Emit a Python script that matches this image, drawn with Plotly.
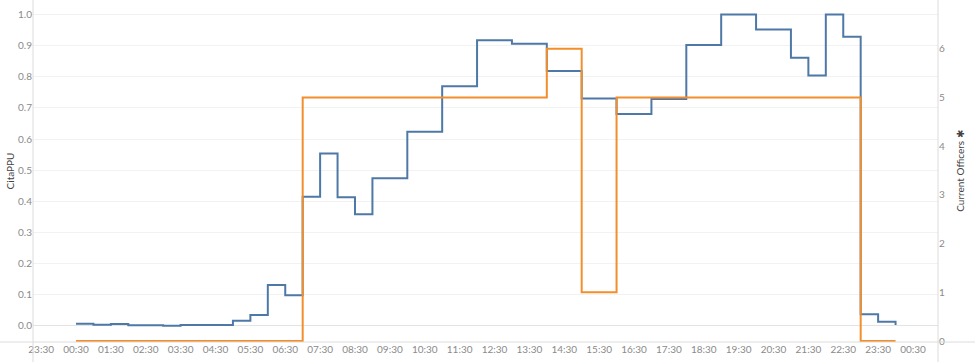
import pandas as pd
import plotly.graph_objects as go

# ---- data -------------------------------------------------------------
start_time = "2020-01-01 00:30"
n_points = 48  # half-hour steps 00:30 .. 00:00 (next day)

citappu = [
    0.007, 0.004, 0.006, 0.002, 0.002, 0.001, 0.003, 0.003, 0.003, 0.017, 0.035, 0.132, 0.099,
    0.415, 0.554, 0.413, 0.359, 0.474, 0.474, 0.624, 0.624, 0.770, 0.770, 0.917, 0.917,
    0.906, 0.906, 0.819, 0.819, 0.730, 0.730, 0.681, 0.681, 0.729, 0.729, 0.902, 0.902,
    1.000, 1.000, 0.952, 0.952, 0.861, 0.804, 1.000, 0.929,
    0.038, 0.014, 0.003,
]
current_officers = (
    [0] * 13 + [5] * 14 + [6, 6] + [1, 1] + [5] * 14 + [0, 0, 0]
)

tick_labels = ["23:30", "00:30", "01:30", "02:30", "03:30", "04:30", "05:30", "06:30",
               "07:30", "08:30", "09:30", "10:30", "11:30", "12:30", "13:30", "14:30",
               "15:30", "16:30", "17:30", "18:30", "19:30", "20:30", "21:30", "22:30",
               "23:30", "00:30"]
tick_start = "2019-12-31 23:30"

left_ticks = [0.0, 0.1, 0.2, 0.3, 0.4, 0.5, 0.6, 0.7, 0.8, 0.9, 1.0]
right_ticks = [0, 1, 2, 3, 4, 5, 6, 7]

# ---- figure -----------------------------------------------------------
times = pd.date_range(start_time, periods=n_points, freq="30min")
tick_times = pd.date_range(tick_start, periods=len(tick_labels), freq="60min")

BLUE = "#4e79a7"
ORANGE = "#f28e2b"
FONT = "Lato, 'Open Sans', sans-serif"

fig = go.Figure()
fig.add_trace(go.Scatter(
    x=times, y=citappu, mode="lines", line=dict(color=BLUE, width=2, shape="hv"),
    name="CitaPPU", yaxis="y",
))
fig.add_trace(go.Scatter(
    x=times, y=current_officers, mode="lines", line=dict(color=ORANGE, width=2, shape="hv"),
    name="Current Officers", yaxis="y2",
))

W, H = 975, 362
ml, mr, mt, mb = 33, 37, 0, 20
pw, ph = W - ml - mr, H - mt - mb

line_col = "#dcdcdc"
shapes = [
    dict(type="line", xref="paper", yref="paper", x0=0, x1=0, y0=-mb / ph, y1=1,
         line=dict(color=line_col, width=1)),
    dict(type="line", xref="paper", yref="paper", x0=1, x1=1, y0=-mb / ph, y1=1,
         line=dict(color=line_col, width=1)),
    dict(type="line", xref="paper", yref="paper", x0=-ml / pw, x1=(W - ml) / pw, y0=0, y1=0,
         line=dict(color=line_col, width=1)),
]

fig.update_layout(
    width=W, height=H,
    margin=dict(l=ml, r=mr, t=mt, b=mb, pad=0),
    paper_bgcolor="white", plot_bgcolor="white",
    showlegend=False,
    font=dict(family=FONT, size=10, color="#8a8a8a"),
    shapes=shapes,
    xaxis=dict(
        range=["2019-12-31 23:16:02", "2020-01-02 01:13:01"],
        tickmode="array", tickvals=tick_times, ticktext=tick_labels,
        showgrid=False, zeroline=False, showline=False, ticks="",
        tickfont=dict(size=10, color="#8a8a8a"),
    ),
    yaxis=dict(
        range=[-0.0514, 1.0466],
        tickmode="array", tickvals=left_ticks,
        ticktext=[f"{v:.1f}" for v in left_ticks],
        showgrid=True, gridcolor="#f2f2f2", gridwidth=1,
        zeroline=True, zerolinecolor="#e3e3e3", zerolinewidth=1,
        showline=False, ticks="",
        tickfont=dict(size=10, color="#8a8a8a"),
        title=dict(text="CitaPPU", font=dict(size=10, color="#444444"), standoff=1),
    ),
    yaxis2=dict(
        range=[-0.02, 7.0],
        overlaying="y", side="right",
        tickmode="array", tickvals=right_ticks,
        showgrid=False, zeroline=False, showline=False, ticks="",
        tickfont=dict(size=10, color="#8a8a8a"),
        title=dict(text="Current Officers ✱", font=dict(size=10, color="#444444"), standoff=12),
    ),
)

fig.write_html("out.html")
